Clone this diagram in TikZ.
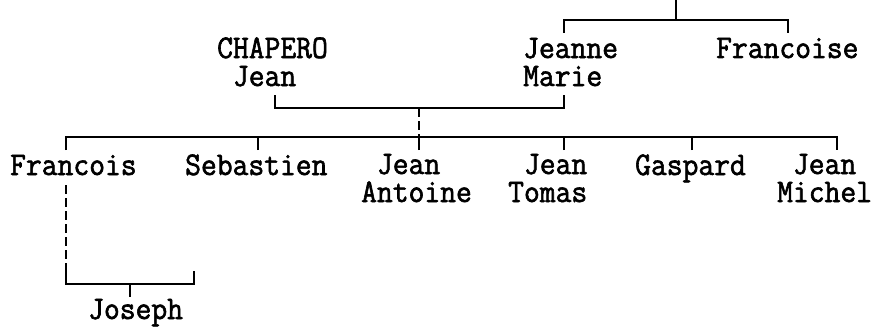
\documentclass[tikz,border=0pt]{standalone}
\usepackage{fontspec}
\newfontfamily\gedfont[FakeStretch=0.93, FakeBold=1.8]{Latin Modern Mono}
\usetikzlibrary{calc}
\newcommand\pad{\hphantom{J}}
\tikzset{
  every picture/.style={line cap=butt, line join=miter},
  person/.style={font={\gedfont\fontsize{33}{28}\selectfont}, inner sep=0pt, anchor=base west, align=left},
  link/.style={line width=1.8pt},
  % uncertain descent
  uncertain/.style={link, dash pattern=on 9pt off 4pt},
}
\begin{document}
\begin{tikzpicture}[x=1pt, y=-1pt]
  \path[fill=white, use as bounding box] (0,0) rectangle (872,329);
  % persons (base = last line)
  \node[person] (chapero) at (217,86) {CHAPERO\\\pad Jean};
  \node[person] (jeanne) at (523,86) {Jeanne\\Marie};
  \node[person] (francoise) at (716,58) {Francoise};
  \node[person] (francois) at (10,175) {Francois};
  \node[person] (sebastien) at (185,175) {Sebastien};
  \node[person] (antoine) at (361,202) {\pad Jean\\Antoine};
  \node[person] (tomas) at (508,202) {\pad Jean\\Tomas};
  \node[person] (gaspard) at (635,175) {Gaspard};
  \node[person] (michel) at (777,202) {\pad Jean\\Michel};
  \node[person] (joseph) at (88,319) {Joseph};
  % junctions
  \coordinate (gtop) at (676,0);
  \coordinate (gbar) at (676,20);
  \coordinate (g1) at (564,33);
  \coordinate (g2) at (788,33);
  \coordinate (p1) at (275,95);
  \coordinate (p2) at (564,95);
  \coordinate (pbar) at (419,108);
  \coordinate (sbar) at (419,137);
  \coordinate (s1) at (66,150);
  \coordinate (s2) at (258,150);
  \coordinate (s3) at (419,150);
  \coordinate (s4) at (564,150);
  \coordinate (s5) at (692,150);
  \coordinate (s6) at (837,150);
  \coordinate (f1) at (66,185);
  \coordinate (j1) at (66,271);
  \coordinate (j2) at (194,271);
  \coordinate (jbar) at (130,284);
  \coordinate (jtick) at (130,297);
  % brackets
  \draw[link] (gtop) -- (gbar);
  \draw[link] (g1) |- (gbar) -| (g2);
  \draw[link] (p1) |- (pbar) -| (p2);
  \draw[uncertain] (pbar) -- (sbar);
  \draw[link] (s1) |- (sbar) -| (s6);
  \foreach \s in {s2,s3,s4,s5}
    \draw[link] (\s) -- (\s |- sbar);
  \draw[uncertain] (f1) -- (j1);
  \draw[link] (j1) |- (jbar) -| (j2);
  \draw[link] (jbar) -- (jtick);
\end{tikzpicture}
\end{document}
